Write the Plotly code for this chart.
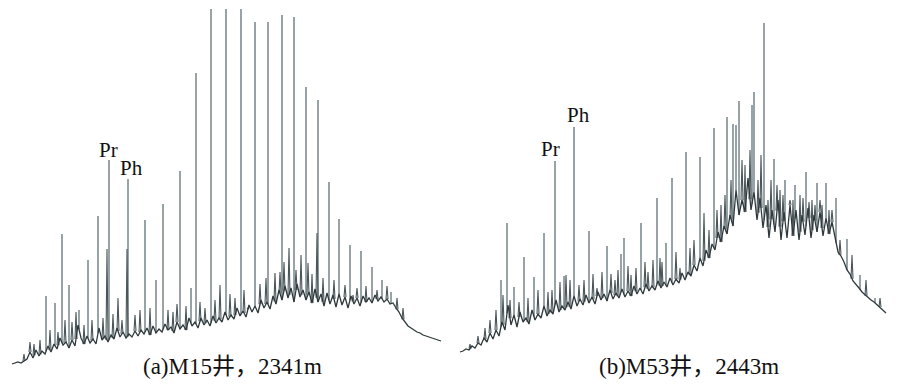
import numpy as np
import plotly.graph_objects as go

# ---------------- Panel (a) M15 well, 2341 m ----------------
# Unresolved complex mixture / noise trace (response, sampled every 3 units of retention)
A_START, A_STEP = 12, 3
a_noise = [6, 7, 8, 7, 9, 11, 18, 12, 20, 14, 19, 16, 24, 18, 26, 21, 32, 25, 28, 22,
           30, 24, 45, 32, 26, 34, 27, 31, 26, 42, 30, 34, 28, 35, 31, 42, 33, 38, 32, 36,
           33, 39, 34, 40, 36, 42, 35, 44, 37, 41, 38, 46, 40, 43, 37, 48, 41, 45, 40, 52,
           44, 48, 42, 52, 45, 50, 44, 54, 47, 52, 48, 58, 50, 55, 51, 62, 54, 59, 53, 65,
           58, 64, 57, 70, 62, 68, 61, 74, 66, 80, 70, 84, 72, 82, 68, 86, 73, 80, 70, 78,
           67, 81, 68, 76, 64, 77, 66, 75, 63, 76, 65, 73, 62, 74, 66, 72, 64, 74, 68, 72,
           67, 75, 69, 73, 68, 71, 66, 67, 62, 58, 52, 48, 44, 42, 40, 38, 37, 35, 34, 33,
           32, 31, 30, 29]
# Resolved n-alkane / isoprenoid peaks: retention and apex response
a_peak_rt = [46, 55, 62, 69, 79, 88, 98, 109, 128, 145, 156, 163, 180, 191, 196, 211, 226,
             241, 255, 268, 282, 294, 306, 318, 329, 339, 350, 361, 372, 382, 391]
a_peak_h = [74, 67, 136, 85, 60, 110, 154, 210, 191, 150, 90, 166, 199, 82, 297, 361, 361,
            361, 348, 348, 355, 353, 283, 270, 188, 151, 125, 119, 103, 90, 78]
# Minor peaks
a_minor_rt = [24, 30, 34, 40, 50, 58, 65, 72, 76, 84, 92, 103, 107, 113, 118, 122, 127, 135,
              140, 150, 168, 173, 177, 186, 200, 205, 215, 220, 230, 235, 244, 248, 260, 266,
              275, 280, 284, 289, 296, 301, 308, 312, 317, 323, 334, 345, 353, 357, 366, 377,
              387, 397, 403]
a_minor_h = [16, 28, 26, 30, 40, 38, 50, 48, 58, 45, 50, 52, 121, 56, 72, 50, 121, 55,
             60, 62, 60, 58, 66, 64, 68, 62, 70, 85, 76, 72, 80, 62, 86, 92,
             97, 98, 108, 122, 100, 115, 107, 96, 137, 92, 90, 85, 75, 82, 84, 80,
             84, 72, 62]

# ---------------- Panel (b) M53 well, 2443 m ----------------
B_START, B_STEP = 460, 3
b_noise = [18, 19, 21, 20, 24, 22, 27, 25, 32, 28, 37, 31, 40, 34, 48, 40, 65, 45, 55, 43,
           58, 48, 52, 46, 60, 50, 56, 52, 64, 54, 60, 56, 70, 58, 64, 60, 68, 61, 74, 64,
           71, 65, 75, 67, 73, 66, 78, 70, 76, 69, 80, 71, 77, 72, 81, 73, 79, 74, 84, 76,
           82, 76, 86, 79, 84, 80, 89, 82, 88, 83, 92, 85, 91, 87, 97, 90, 98, 94, 105, 99,
           112, 104, 120, 112, 126, 120, 138, 128, 144, 136, 155, 144, 180, 155, 170, 158, 192, 160, 178, 150,
           172, 142, 165, 132, 160, 138, 170, 130, 158, 132, 165, 134, 160, 130, 155, 135, 162, 132, 155, 138,
           158, 134, 152, 136, 148, 132, 118, 114, 108, 100, 96, 89, 86, 82, 78, 75, 73, 70, 68, 65,
           63, 60, 57]
b_peak_rt = [501, 507, 514, 524, 534, 544, 555, 564, 574, 589, 607, 621, 624, 641, 657, 666,
             672, 686, 700, 714, 727, 733, 736, 739, 752, 754, 764, 774, 785, 795, 806, 817,
             826, 836, 847, 860, 875]
b_peak_h = [90, 147, 83, 113, 93, 137, 209, 94, 243, 139, 124, 116, 132, 147, 172, 127,
            192, 218, 213, 242, 253, 246, 245, 269, 265, 278, 347, 211, 190, 185, 198, 187,
            187, 172, 131, 95, 72]
b_minor_rt = [470, 478, 485, 490, 496, 503, 510, 519, 528, 538, 548, 552, 560, 566, 570, 579,
              584, 593, 597, 602, 611, 615, 618, 628, 631, 636, 645, 648, 653, 660, 662, 676,
              680, 690, 694, 704, 709, 717, 721, 725, 731, 742, 745, 750, 758, 761, 768, 771,
              777, 780, 783, 790, 793, 800, 803, 809, 812, 815, 820, 822, 829, 832, 840, 852,
              866, 880]
b_minor_h = [26, 34, 42, 50, 60, 75, 70, 68, 72, 80, 78, 80, 88, 95, 90, 85,
             90, 96, 82, 98, 96, 90, 100, 104, 95, 102, 108, 98, 110, 112, 108, 118,
             102, 122, 130, 157, 140, 160, 165, 175, 190, 210, 205, 220, 190, 215, 170, 190,
             185, 180, 175, 170, 170, 175, 172, 168, 170, 165, 170, 165, 160, 160, 130, 115,
             90, 72]

# Labels
pk_labels = [("Pr", 108, 220), ("Ph", 131, 202), ("Pr", 550, 221), ("Ph", 578, 255)]
captions = [("(a)M15井，2341m", 232, 4), ("(b)M53井，2443m", 689, 4)]

NOISE_C = "#2f393c"
PEAK_C = "#6c7c82"
FONT = "Liberation Serif, Noto Sans CJK SC, serif"


def spikes(noise_x, noise_y, rts, hs, half_width=0.0):
    xs, ys = [], []
    for rt, h in zip(rts, hs):
        base = float(np.interp(rt, noise_x, noise_y))
        if half_width > 0:
            xs += [rt - half_width, rt, rt + half_width, None]
            ys += [base, h, base, None]
        else:
            xs += [rt, rt, None]
            ys += [base, h, None]
    return xs, ys


fig = go.Figure()
for start, step, noise, prt, ph, mrt, mh in [
    (A_START, A_STEP, a_noise, a_peak_rt, a_peak_h, a_minor_rt, a_minor_h),
    (B_START, B_STEP, b_noise, b_peak_rt, b_peak_h, b_minor_rt, b_minor_h),
]:
    nx = np.arange(start, start + step * len(noise), step)[: len(noise)]
    ny = np.array(noise, dtype=float)
    px, py = spikes(nx, ny, prt, ph)
    fig.add_trace(go.Scatter(x=px, y=py, mode="lines",
                             line=dict(color=PEAK_C, width=1.4), hoverinfo="skip"))
    mx, my = spikes(nx, ny, mrt, mh, half_width=1.0)
    fig.add_trace(go.Scatter(x=mx, y=my, mode="lines",
                             line=dict(color="#4a565a", width=1.1), hoverinfo="skip"))
    fig.add_trace(go.Scatter(x=nx, y=ny, mode="lines",
                             line=dict(color=NOISE_C, width=1.3), hoverinfo="skip"))

for txt, x, y in pk_labels:
    fig.add_annotation(x=x, y=y, text=txt, showarrow=False, xref="x", yref="y",
                       font=dict(family=FONT, size=21, color="#111111"))
for txt, x, y in captions:
    fig.add_annotation(x=x, y=y, text=txt, showarrow=False, xref="x", yref="y",
                       font=dict(family=FONT, size=23, color="#111111"))

# page body has an 8px margin: size the figure to fill the rest of the window
fig.update_layout(
    width=892, height=384,
    margin=dict(l=0, r=0, t=0, b=0),
    paper_bgcolor="white", plot_bgcolor="white",
    showlegend=False,
    xaxis=dict(range=[8, 900], visible=False, fixedrange=True),
    yaxis=dict(range=[-22, 362], visible=False, fixedrange=True),
)
fig.write_html("out.html")
